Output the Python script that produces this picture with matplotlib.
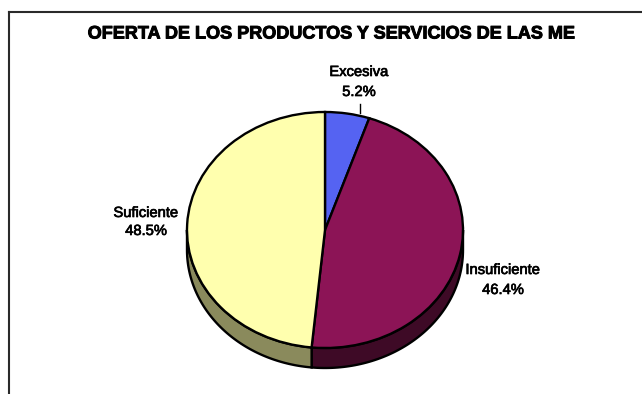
import numpy as np
import matplotlib
matplotlib.use("Agg")
import matplotlib.pyplot as plt
import matplotlib.patheffects as pe
from matplotlib.patches import Polygon
from matplotlib.lines import Line2D

plt.rcParams['font.family'] = ['Liberation Sans', 'DejaVu Sans']

title = "OFERTA DE LOS PRODUCTOS Y SERVICIOS DE LAS ME"
categories = ["Excesiva", "Insuficiente", "Suficiente"]
shares = [5.2, 46.4, 48.5]
top_colors = ["#5563f2", "#8c1456", "#ffffae"]
side_colors = ["#2a3290", "#3e0a26", "#8a8a5c"]

W, H = 642, 394
fig = plt.figure(figsize=(W / 100, H / 100), dpi=100)

# frame lines (top and left only)
fig.add_artist(Line2D([9 / W, 1], [1 - 12 / H, 1 - 12 / H], color="#2a2a2a", lw=1.5))
fig.add_artist(Line2D([9 / W, 9 / W], [0, 1 - 12 / H], color="#2a2a2a", lw=1.5))

fig.text(331.5 / W, 1 - 34 / H, title, ha="center", va="center",
         fontsize=13.0, fontweight="bold",
         path_effects=[pe.withStroke(linewidth=0.7, foreground="black")])

# pie axes: one x unit = rx px, one y unit = ry px (tilted ellipse)
cx, cy, rx, ry = 325, 230, 138, 118
depth = 20 / ry
xl, yl = (-1.2, 1.2), (-1.35, 1.2)
left = (cx + xl[0] * rx) / W
width = (xl[1] - xl[0]) * rx / W
bottom = (H - (cy - yl[0] * ry)) / H
height = (yl[1] - yl[0]) * ry / H
ax = fig.add_axes([left, bottom, width, height])

wedges, _ = ax.pie(shares, colors=top_colors, startangle=90, counterclock=False,
                   wedgeprops=dict(edgecolor="black", linewidth=1.7))
for w in wedges:
    w.set_zorder(3)
ax.set_aspect("auto")
ax.set_xlim(*xl)
ax.set_ylim(*yl)
ax.axis("off")

# side band of the pie, lower half only
for w, col in zip(wedges, side_colors):
    for k in (-360, 0, 360):
        lo = max(w.theta1 + k, 180)
        hi = min(w.theta2 + k, 360)
        if lo >= hi:
            continue
        t = np.radians(np.linspace(lo, hi, 80))
        xs = np.cos(t)
        ys = np.sin(t)
        pts = np.column_stack([np.r_[xs, xs[::-1]], np.r_[ys, ys[::-1] - depth]])
        ax.add_patch(Polygon(pts, closed=True, facecolor=col, edgecolor="black",
                             linewidth=1.7, zorder=2))

# labels
lab_style = dict(ha="center", va="center", fontsize=10.6, transform=fig.transFigure,
                 path_effects=[pe.withStroke(linewidth=0.5, foreground="black")])
labels_xy = [(359, 72, 92), (503, 270, 290), (146, 213, 231)]
for name, val, (lx, ly1, ly2) in zip(categories, shares, labels_xy):
    fig.text(lx / W, 1 - ly1 / H, name, **lab_style)
    fig.text(lx / W, 1 - ly2 / H, f"{val}%", **lab_style)

# leader for the small slice
fig.add_artist(Line2D([360 / W, 360 / W], [1 - 104 / H, 1 - 113 / H], color="black", lw=1.0))

fig.savefig("out.png", dpi=100, facecolor="white")
